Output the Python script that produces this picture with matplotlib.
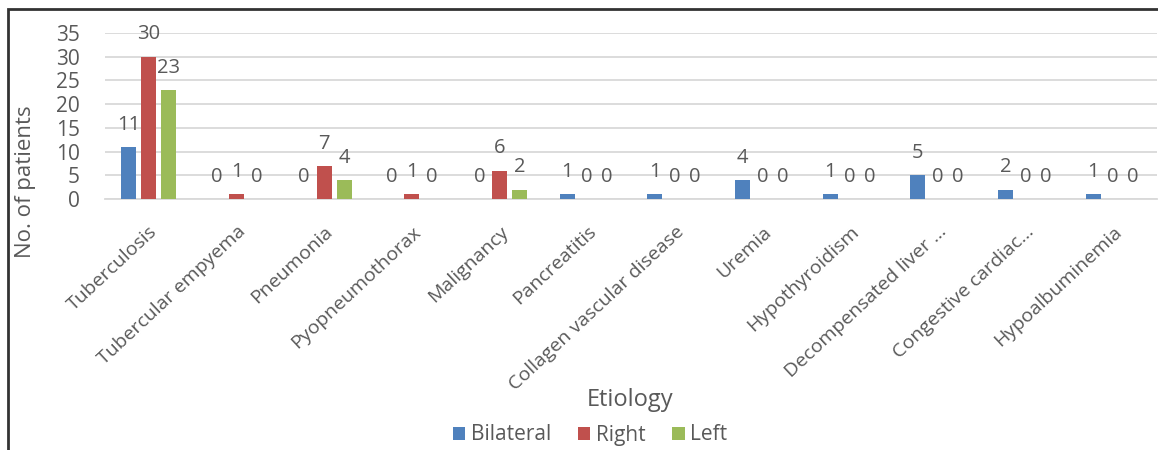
import matplotlib.pyplot as plt
import numpy as np
from matplotlib.patches import Rectangle

# etiology of pleural effusion by side
categories = ['Tuberculosis', 'Tubercular empyema', 'Pneumonia', 'Pyopneumothorax',
              'Malignancy', 'Pancreatitis', 'Collagen vascular disease', 'Uremia',
              'Hypothyroidism', 'Decompensated liver ...', 'Congestive cardiac...',
              'Hypoalbuminemia']
bilateral = [11, 0, 0, 0, 0, 1, 1, 4, 1, 5, 2, 1]
right = [30, 1, 7, 1, 6, 0, 0, 0, 0, 0, 0, 0]
left = [23, 0, 4, 0, 2, 0, 0, 0, 0, 0, 0, 0]
yticks = [0, 5, 10, 15, 20, 25, 30, 35]

seriesNames = ['Bilateral', 'Right', 'Left']
seriesColors = ['#4F81BD', '#C0504D', '#9BBB59']
textColor = '#595959'
gridColor = '#D9D9D9'

plt.rcParams['font.family'] = ['Open Sans', 'DejaVu Sans']

fig = plt.figure(figsize=(11.58, 4.5), dpi=100)
ax = fig.add_axes([105 / 1158, 1 - 199 / 450, 1052 / 1158, 166 / 450])

x = np.arange(len(categories))
barWidth = 0.17
offset = 0.228

for i, (vals, name, col) in enumerate(zip([bilateral, right, left], seriesNames, seriesColors)):
    pos = x + (i - 1) * offset
    ax.bar(pos, vals, width=barWidth, color=col, label=name, zorder=3)
    for px, v in zip(pos, vals):
        ax.annotate(str(v), (px, v), xytext=(0, 16), textcoords='offset points',
                    ha='center', va='center', fontsize=14.5, color=textColor)

ax.set_xlim(-0.5, len(categories) - 0.5)
ax.set_ylim(0, 35)
ax.set_yticks(yticks)
ax.yaxis.grid(True, color=gridColor, linewidth=1.3, zorder=0)
ax.set_axisbelow(True)
for s in ['top', 'right', 'left']:
    ax.spines[s].set_visible(False)
ax.spines['bottom'].set_color(gridColor)
ax.spines['bottom'].set_linewidth(1.3)
ax.tick_params(axis='y', length=0, pad=18, labelsize=15, labelcolor=textColor)
ax.tick_params(axis='x', length=0, pad=17, labelcolor=textColor)
ax.set_xticks(x)
ax.set_xticklabels(categories, rotation=43, ha='right', rotation_mode='anchor',
                   fontsize=14)

fig.text(26 / 1158, 1 - 182 / 450, 'No. of patients', rotation=90, ha='center',
         va='center', fontsize=16, color=textColor)
fig.text(630 / 1158, 1 - 400 / 450, 'Etiology', ha='center', va='center',
         fontsize=17, color=textColor)

fig.legend(loc='center', bbox_to_anchor=(590 / 1158, 1 - 435 / 450), ncol=3,
           frameon=False, fontsize=15, handlelength=0.6, handleheight=0.6,
           handletextpad=0.25, columnspacing=1.3, labelcolor=textColor)

# outer frame
fig.patches.append(Rectangle((8 / 1158, -0.05), 1.1, 1 - 9 / 450 + 0.05,
                             transform=fig.transFigure, fill=False,
                             edgecolor='#333333', linewidth=2))

fig.savefig('out.png', dpi=100)
